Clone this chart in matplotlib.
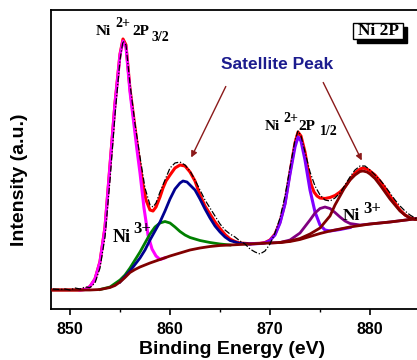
import matplotlib
matplotlib.use("Agg")
import matplotlib.pyplot as plt
from matplotlib.patches import Rectangle

plt.rcParams['font.family'] = ['Liberation Sans', 'DejaVu Sans']

# (binding energy eV, intensity a.u.)
data = [(848.3, 1), (849, 0.5), (849.5, 1), (850, 0), (850.5, 2), (851, 1), (851.5, 3), (852, 2.5),
        (852.5, 7), (853, 22), (853.5, 53), (854, 110), (854.5, 175), (855, 230), (855.3, 249),
        (855.6, 245), (856, 206), (856.5, 166), (857, 133), (857.5, 102), (858, 85), (858.3, 83),
        (858.6, 87), (859, 98), (859.5, 110), (860, 122), (860.5, 127), (861, 128), (861.5, 125),
        (862, 119), (862.5, 110), (863, 100), (863.5, 90), (864, 82), (864.5, 74), (865, 66),
        (865.5, 60), (866, 56), (866.5, 53), (867, 49), (867.5, 46), (868, 41), (868.5, 38),
        (869, 36), (869.5, 39), (870, 46), (870.5, 57), (871, 72), (871.5, 94), (872, 122),
        (872.5, 150), (872.8, 159), (873.1, 154), (873.5, 138), (874, 118), (874.5, 104),
        (875, 95), (875.5, 90), (876, 89), (876.5, 92), (877, 97), (877.5, 105), (878, 113),
        (878.5, 120), (879, 124), (879.5, 124), (880, 120), (880.5, 115), (881, 110),
        (881.5, 104), (882, 97), (882.5, 90), (883, 84), (883.5, 79), (884, 75), (884.5, 72),
        (885, 70), (886, 70)]

envelope = [(848, 0), (851, 0), (851.5, 0.5), (852, 3.5), (852.5, 11), (853, 28.5), (853.5, 63),
            (854, 125), (854.5, 187), (855, 236), (855.3, 251), (855.6, 245), (856, 201),
            (856.4, 170), (856.7, 147), (857, 125), (857.3, 105), (857.6, 90), (858, 80),
            (858.3, 79), (858.6, 83), (859, 93), (859.3, 102), (859.6, 109), (860, 115),
            (860.5, 122), (861, 125), (861.5, 124), (862, 118), (862.5, 109), (863, 95),
            (863.5, 84), (864, 76), (864.5, 68), (865, 61.5), (865.5, 55.5), (866, 51),
            (866.5, 48.5), (867, 47), (868, 46.3), (869, 46.7), (869.5, 47.5), (870, 50),
            (870.5, 56), (871, 68), (871.5, 87), (872, 118), (872.5, 147), (872.8, 158),
            (873.1, 154), (873.5, 138), (873.8, 120), (874.1, 106), (874.4, 98), (874.7, 94),
            (875, 92), (875.5, 91.5), (876, 92.5), (876.5, 94.5), (877, 98), (877.5, 103),
            (878, 110.5), (878.5, 117), (879, 121), (879.3, 122), (879.7, 121), (880, 119),
            (880.5, 115), (881, 109), (881.5, 102), (882, 94), (882.5, 87), (883, 80),
            (883.5, 75), (884, 72), (884.5, 71), (885, 71.5), (886, 73)]

background = [(848, 0), (852, 0), (853, 0.5), (854, 2.5), (854.5, 4.5), (855, 8), (855.5, 12.5),
              (856, 17.5), (856.5, 20.5), (857, 23), (858, 27), (859, 30.5), (860, 34), (861, 37),
              (862, 40), (863, 42), (864, 43.5), (865, 44.5), (866, 45), (868, 46), (870, 47),
              (871, 47.5), (872, 48.5), (873, 50.5), (874, 53.5), (875, 56.5), (876, 59),
              (877, 61), (878, 63), (879, 64.5), (880, 66), (882, 68), (884, 70.5), (886, 73)]

ni2_p32 = [(851, 0), (851.5, 0.5), (852, 3.5), (852.5, 11), (853, 28), (853.5, 62), (854, 124),
           (854.5, 186), (855, 235), (855.3, 249), (855.6, 243), (856, 198), (856.4, 165),
           (856.7, 140), (857, 117), (857.4, 82), (857.8, 55), (858.2, 41), (858.6, 34),
           (859, 30.5), (859.5, 32.2)]

ni3_p32 = [(853, 0.5), (854, 3), (855, 10), (855.5, 15), (856, 22), (856.5, 30), (857, 38),
           (857.5, 47), (858, 56), (858.5, 63), (859, 67), (859.5, 68.5), (860, 67),
           (860.5, 63), (861, 58.5), (861.5, 55), (862, 52.5), (863, 49.5), (864, 47.5),
           (865, 46), (866, 45)]

sat1 = [(855, 8), (856, 19), (857, 32), (857.5, 40), (858, 50), (858.5, 59), (859, 68), (859.5, 79),
        (860, 91), (860.5, 101), (861, 107), (861.3, 109), (861.7, 108), (862, 105), (862.5, 100),
        (863, 91), (863.5, 81), (864, 72), (864.5, 64), (865, 58), (865.5, 53), (866, 49.5),
        (867, 46.5), (868, 46)]

ni2_p12 = [(868, 46), (869, 46.5), (869.5, 47), (870, 49.5), (870.5, 55), (871, 67), (871.5, 86),
           (872, 116), (872.5, 143), (872.8, 153), (873.1, 149), (873.5, 130), (874, 100),
           (874.5, 78), (875, 65), (875.5, 60), (876, 59), (877, 60.5), (878, 62.5)]

ni3_p12 = [(870, 47), (871, 47.5), (872, 50), (873, 57), (874, 70), (874.5, 77), (875, 81.5),
           (875.5, 83), (876, 81.5), (876.5, 77.5), (877, 73), (877.5, 69), (878, 66.5),
           (879, 65), (880, 66), (882, 68), (884, 70.5), (886, 73)]

sat2 = [(871, 47.5), (872, 49), (873, 51.5), (874, 56), (875, 62), (876, 74), (876.5, 85), (877, 94),
        (877.5, 103), (878, 110), (878.5, 115), (879, 118.5), (879.3, 119), (879.7, 118),
        (880, 116), (880.5, 111.5), (881, 105), (881.5, 98), (882, 91), (882.5, 85), (883, 79),
        (883.5, 75), (884, 72), (884.5, 70.5), (885, 70.5), (886, 72.5)]

# peak labels: (text piece, energy, intensity, font size)
label_p32 = [('Ni', 852.6, 255, 11), ('2+', 854.5, 263, 10), ('2P', 856.2, 255, 11), ('3/2', 858.2, 249, 10)]
label_p12 = [('Ni', 869.5, 160, 11), ('2+', 871.3, 168, 10), ('2P', 872.8, 160, 11), ('1/2', 875.0, 155, 10)]
label_ni3_left = [('Ni', 854.3, 48, 13), ('3+', 856.3, 57, 12)]
label_ni3_right = [('Ni', 877.3, 70, 12.5), ('3+', 879.3, 77, 12)]

fig = plt.figure(figsize=(4.17, 3.6), dpi=100)
ax = fig.add_axes([51 / 417, 51 / 360, 379 / 417, 299 / 360])

def draw(pts, **kw):
    x, y = zip(*pts)
    ax.plot(x, y, **kw)

draw(envelope, color='#ff0000', lw=2.2, zorder=2)
draw(ni2_p32, color='#ff00ff', lw=2.2, zorder=3)
draw(ni3_p32, color='#008000', lw=2.0, zorder=3)
draw(sat1, color='#000090', lw=2.0, zorder=3)
draw(ni2_p12, color='#8000ff', lw=2.2, zorder=3)
draw(ni3_p12, color='#800080', lw=2.0, zorder=3)
draw(sat2, color='#800000', lw=2.0, zorder=3)
draw(background, color='#800000', lw=2.0, zorder=3)
draw(data, color='black', lw=0.9, ls=(0, (5, 1.5, 1, 1.5)), zorder=4)

ax.set_xlim(848.1, 886)
ax.set_ylim(-19, 280)
ax.set_xticks([850, 860, 870, 880])
ax.set_xticks([855, 865, 875, 885], minor=True)
ax.set_yticks([])
ax.tick_params(axis='x', which='major', length=4, width=1.2, labelsize=11.5, pad=5)
ax.tick_params(axis='x', which='minor', length=2.5, width=1.0)
for lab in ax.get_xticklabels():
    lab.set_fontweight('bold')
for s in ax.spines.values():
    s.set_linewidth(1.3)

fig.text(232 / 417, 1 - 350 / 360, 'Binding Energy (eV)', ha='center', va='center',
         fontsize=14, fontweight='bold')
fig.text(20 / 417, 1 - 180 / 360, 'Intensity (a.u.)', ha='center', va='center',
         rotation=90, fontsize=14, fontweight='bold')

for label in (label_p32, label_p12, label_ni3_left, label_ni3_right):
    for txt, e, i, size in label:
        ax.text(e, i, txt, ha='left', va='baseline', family='Liberation Serif',
                fontweight='bold', fontsize=size, color='black', zorder=5)

ax.text(870.7, 225, 'Satellite Peak', ha='center', va='center', fontsize=12.5,
        fontweight='bold', color='#1c1c8e')
arrow = dict(arrowstyle='-|>', color='#8b1a1a', lw=1.0, mutation_scale=9)
ax.annotate('', xy=(862, 130), xytext=(865.7, 206), arrowprops=arrow)
ax.annotate('', xy=(879.3, 127), xytext=(875.2, 210), arrowprops=arrow)

# "Ni 2P" box with drop shadow
fig.add_artist(Rectangle((357 / 417, 1 - 43 / 360), 50 / 417, 16 / 360,
                         transform=fig.transFigure, facecolor='black', edgecolor='black'))
fig.add_artist(Rectangle((353 / 417, 1 - 39 / 360), 50 / 417, 16 / 360,
                         transform=fig.transFigure, facecolor='white', edgecolor='black', lw=1))
fig.text(378 / 417, 1 - 31 / 360, 'Ni 2P', ha='center', va='center', family='Liberation Serif',
         fontweight='bold', fontsize=12.5)

fig.savefig('out.png', dpi=100)
